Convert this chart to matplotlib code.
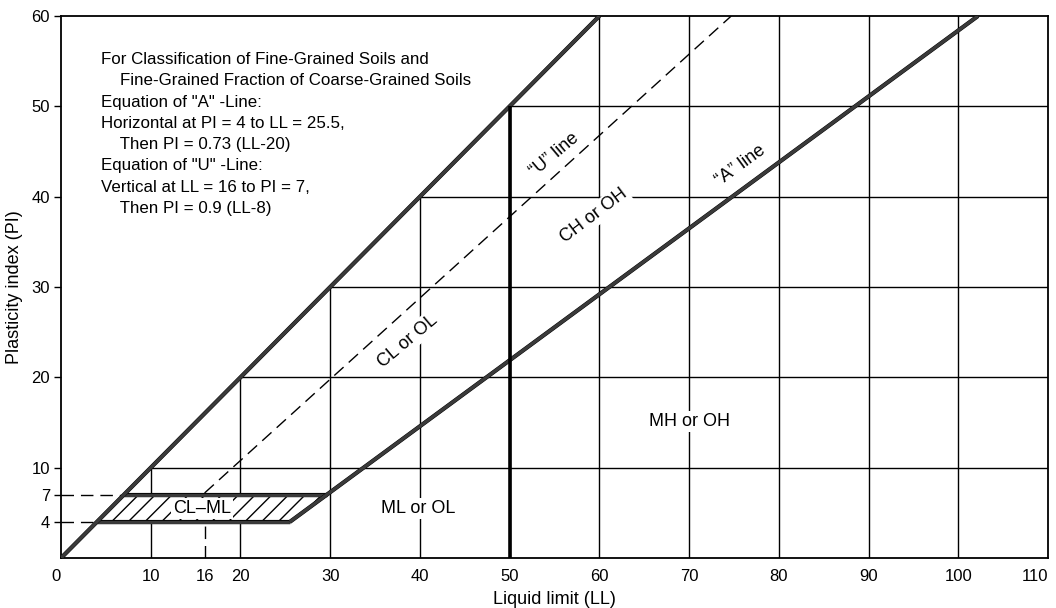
import matplotlib
matplotlib.use("Agg")
import matplotlib.pyplot as plt
import matplotlib.patheffects as pe
from matplotlib.patches import Polygon

plt.rcParams['font.family'] = ['Liberation Sans', 'DejaVu Sans']
plt.rcParams['hatch.linewidth'] = 1.0

# axis ticks
ll_ticks = [0, 10, 16, 20, 30, 40, 50, 60, 70, 80, 90, 100, 110]
pi_ticks = [4, 7, 10, 20, 30, 40, 50, 60]

# grid positions (drawn only below the PI = LL line)
grid_ll = [10, 20, 30, 40, 50, 60, 70, 80, 90, 100]
grid_pi = [10, 20, 30, 40, 50]

# upper limit line PI = LL
upper_ll = [0, 60]
upper_pi = [0, 60]

# "A" line: horizontal at PI = 4 to LL = 25.5, then PI = 0.73 (LL-20)
a_ll = [25.5, 102.2]
a_pi = [4, 60]

# "U" line: vertical at LL = 16 to PI = 7, then PI = 0.9 (LL-8)
u_ll = [16, 74.7]
u_pi = [7.2, 60]

# CL-ML band corners
clml_ll = [4, 25.5, 29.6, 7]
clml_pi = [4, 4, 7, 7]

ll_boundary = 50

note = ("For Classification of Fine-Grained Soils and\n"
        "    Fine-Grained Fraction of Coarse-Grained Soils\n"
        "Equation of \"A\" -Line:\n"
        "Horizontal at PI = 4 to LL = 25.5,\n"
        "    Then PI = 0.73 (LL-20)\n"
        "Equation of \"U\" -Line:\n"
        "Vertical at LL = 16 to PI = 7,\n"
        "    Then PI = 0.9 (LL-8)")

fig = plt.figure(figsize=(10.56, 6.08), dpi=100)
ax = fig.add_axes([0.0578, 0.0822, 0.9346, 0.8915])
ax.set_xlim(0, 110)
ax.set_ylim(0, 60)

# grid
for x in grid_ll:
    ax.plot([x, x], [0, min(x, 60)], color='black', lw=1.0, zorder=1)
for y in grid_pi:
    ax.plot([y, 110], [y, y], color='black', lw=1.0, zorder=1)

thick = dict(color='#3a3a3a', lw=2.4, solid_capstyle='butt', zorder=4,
             path_effects=[pe.Stroke(linewidth=3.0, foreground='black'),
                           pe.Normal()])

# dashed helper lines
dash = dict(color='black', lw=1.0, dashes=(9, 5), zorder=2)
ax.plot([0, 7], [7, 7], **dash)
ax.plot([0, 4], [4, 4], **dash)
ax.plot([16, 16], [0, 7], **dash)
ax.plot(u_ll, u_pi, **dash)

# CL-ML hatched band
band = Polygon(list(zip(clml_ll, clml_pi)), closed=True, facecolor='white',
               edgecolor='black', hatch='//', lw=0, zorder=3)
ax.add_patch(band)
ax.plot([clml_ll[0], clml_ll[1]], [clml_pi[0], clml_pi[1]], **thick)
ax.plot([clml_ll[3], clml_ll[2]], [clml_pi[3], clml_pi[2]], **thick)

# main boundary lines
ax.plot(upper_ll, upper_pi, **thick)
ax.plot(a_ll, a_pi, **thick)
ax.plot([ll_boundary, ll_boundary], [0, ll_boundary], color='black', lw=2.6,
        solid_capstyle='butt', zorder=4)

wb = dict(facecolor='white', edgecolor='none', pad=1.5)
lab = dict(fontsize=13, ha='center', va='center', rotation_mode='anchor', zorder=6)
ax.text(15.7, 5.5, "CL\u2013ML", bbox=wb, **lab)
ax.text(38.6, 24, "CL or OL", rotation=40, bbox=wb, **lab)
ax.text(59.4, 37.9, "CH or OH", rotation=37, bbox=wb, **lab)
ax.text(55, 44.6, "\u201cU\u201d line", rotation=40, bbox=wb, **lab)
ax.text(75.7, 43.5, "\u201cA\u201d line", rotation=36, bbox=wb, **lab)
ax.text(70, 15.1, "MH or OH", bbox=wb, **lab)
ax.text(39.8, 5.5, "ML or OL", bbox=wb, **lab)

ax.text(4.4, 56.0, note, fontsize=12.2, ha='left', va='top', linespacing=1.52)

ax.set_xticks(ll_ticks)
ax.set_yticks(pi_ticks)
ax.tick_params(axis='x', length=0, pad=8, labelsize=12)
ax.tick_params(axis='y', length=5, width=1, direction='out', pad=3, labelsize=12)
xl = ax.get_xticklabels()
xl[0].set_horizontalalignment('right')
xl[-1].set_horizontalalignment('right')
for s in ax.spines.values():
    s.set_linewidth(1.3)

ax.set_xlabel("Liquid limit (LL)", fontsize=13, labelpad=5)
ax.set_ylabel("Plasticity index (PI)", fontsize=13, labelpad=6)

fig.savefig("out.png", dpi=100)
